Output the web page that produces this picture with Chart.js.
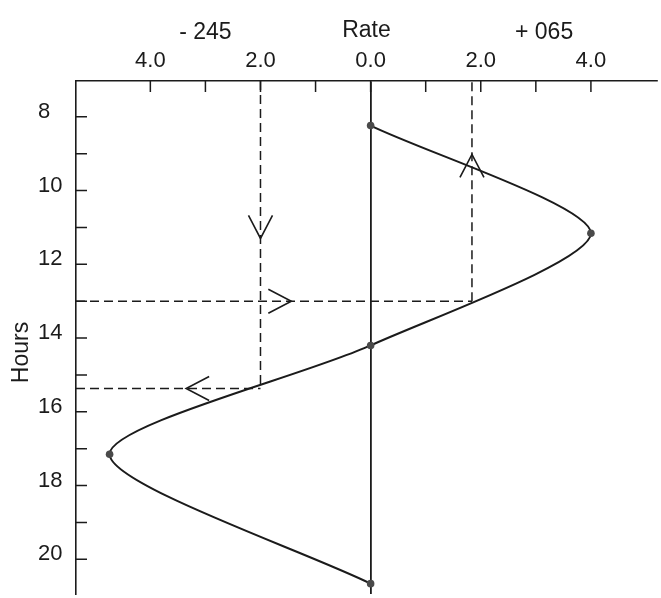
<!DOCTYPE html>
<html>
<head>
<meta charset="utf-8">
<style>
  html, body { margin: 0; padding: 0; background: #fff; }
  #chart { display: block; }
</style>
<script src="https://cdn.jsdelivr.net/npm/chart.js@4.4.1/dist/chart.umd.min.js"></script>
</head>
<body>
<canvas id="chart" width="661" height="598"></canvas>
<script>
(function () {

// -------------------------------------------------------------------------------------------------------
// data (rate in knots, time in hours)

var hours = [8.24, 11.16, 14.2, 17.15, 20.66];
var rates = [0.0, 4.0, 0.0, -4.74, 0.0];

// dashed construction lines, one pair of ends per line
var guideRates = [[-2.0, -2.0], [-5.35, 1.84], [1.84, 1.84], [-5.35, -2.0]];
var guideHours = [[7.03, 15.37], [13.0, 13.0], [13.0, 7.03], [15.37, 15.37]];

// open arrow heads on the construction lines
var arrowRates = [-2.0, -1.44, 1.84, -3.35];
var arrowHours = [11.3, 13.0, 9.02, 15.37];
var arrowDirs = ['down', 'right', 'up', 'left'];

var directionLabels = ['- 245', '+ 065'];
var directionRates = [-3, 3.15];

var rateMin = -5.35, rateMax = 5.2;
var hourMin = 7.03, hourMax = 20.94;

// -------------------------------------------------------------------------------------------------------

var INK = '#1b1b1b';
var FONT = "'Liberation Sans', Arial, sans-serif";

Chart.defaults.font.family = FONT;
Chart.defaults.font.size = 22;
Chart.defaults.color = INK;

function onlyWhole(scale) {
    scale.ticks = scale.ticks.filter(function (t) { return Number.isInteger(t.value); });
}

function pairs(xs, ys) {
    return xs.map(function (x, i) { return { x: x, y: ys[i] }; });
}

var datasets = [];
guideRates.forEach(function (xs, i) {
    datasets.push({
        data: pairs(xs, guideHours[i]),
        showLine: true,
        borderColor: INK,
        borderWidth: 1.5,
        borderDash: [9, 5],
        pointRadius: 0,
        tension: 0
    });
});
datasets.push({
    data: pairs(rates, hours),
    showLine: true,
    borderColor: INK,
    borderWidth: 2,
    tension: 0.25,
    pointRadius: 3.8,
    pointBorderWidth: 0,
    pointBackgroundColor: '#4a4a4a'
});

// inner tick marks, arrow heads and free text
var extras = {
    id: 'extras',
    afterDatasetsDraw: function (chart) {
        var ctx = chart.ctx, a = chart.chartArea;
        var xs = chart.scales.x, ys = chart.scales.y;
        ctx.save();
        ctx.strokeStyle = INK;
        ctx.lineWidth = 1.5;
        ctx.beginPath();
        xs.ticks.forEach(function (t) {
            var px = xs.getPixelForValue(t.value);
            ctx.moveTo(px, a.top);
            ctx.lineTo(px, a.top + 11);
        });
        ys.ticks.forEach(function (t) {
            var py = ys.getPixelForValue(t.value);
            ctx.moveTo(a.left, py);
            ctx.lineTo(a.left + 11, py);
        });
        ctx.stroke();

        ctx.lineWidth = 1.6;
        arrowRates.forEach(function (r, i) {
            var px = xs.getPixelForValue(r), py = ys.getPixelForValue(arrowHours[i]);
            var d = { down: [0, 1], up: [0, -1], left: [-1, 0], right: [1, 0] }[arrowDirs[i]];
            var bx = px - d[0] * 23, by = py - d[1] * 23;
            ctx.beginPath();
            ctx.moveTo(bx - d[1] * 12, by + d[0] * 12);
            ctx.lineTo(px, py);
            ctx.lineTo(bx + d[1] * 12, by - d[0] * 12);
            ctx.stroke();
        });

        ctx.fillStyle = INK;
        ctx.font = '23px ' + FONT;
        ctx.textAlign = 'center';
        ctx.textBaseline = 'middle';
        directionLabels.forEach(function (s, i) {
            ctx.fillText(s, xs.getPixelForValue(directionRates[i]), 33);
        });

        ctx.translate(22, (a.top + a.bottom) / 2 + 15);
        ctx.rotate(-Math.PI / 2);
        ctx.fillText('Hours', 0, 0);
        ctx.restore();
    }
};

try {
    var canvas = document.getElementById('chart');
    new Chart(canvas.getContext('2d'), {
        type: 'scatter',
        data: { datasets: datasets },
        plugins: [extras],
        options: {
            responsive: false,
            animation: false,
            layout: { padding: { left: 38, top: 0, right: 0, bottom: 0 } },
            plugins: { legend: { display: false }, tooltip: { enabled: false } },
            scales: {
                x: {
                    type: 'linear',
                    position: 'top',
                    min: rateMin,
                    max: rateMax,
                    afterBuildTicks: onlyWhole,
                    afterFit: function (s) { s.height = 81; s.paddingLeft = 0; s.paddingRight = 0; },
                    ticks: {
                        stepSize: 1,
                        autoSkip: false,
                        maxRotation: 0,
                        padding: 7,
                        callback: function (v) { return v % 2 === 0 ? Math.abs(v).toFixed(1) : ''; }
                    },
                    grid: {
                        drawTicks: false,
                        lineWidth: 1.8,
                        color: function (c) { return c.tick && c.tick.value === 0 ? INK : 'rgba(0,0,0,0)'; }
                    },
                    border: { display: true, color: INK, width: 1.6 },
                    title: { display: true, text: 'Rate', font: { size: 23 }, padding: { top: 17, bottom: 0 } }
                },
                y: {
                    type: 'linear',
                    reverse: true,
                    min: hourMin,
                    max: hourMax,
                    afterBuildTicks: onlyWhole,
                    afterFit: function (s) { s.width = 38; s.paddingTop = 0; s.paddingBottom = 0; },
                    ticks: {
                        stepSize: 1,
                        autoSkip: false,
                        crossAlign: 'far',
                        padding: 0,
                        labelOffset: -5,
                        callback: function (v) { return v % 2 === 0 ? String(v) : ''; }
                    },
                    grid: { drawTicks: false, drawOnChartArea: false },
                    border: { display: true, color: INK, width: 1.6 }
                }
            }
        }
    });
} catch (e) { console.log(e); }

// -------------------------------------------------------------------------------------------------------

})();
</script>
</body>
</html>
